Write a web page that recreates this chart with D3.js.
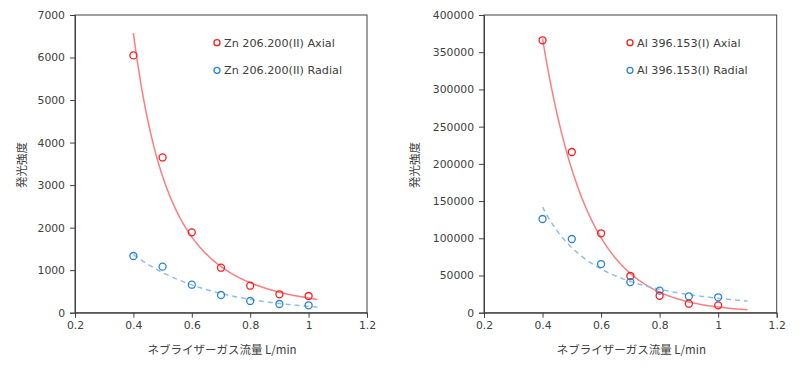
<!DOCTYPE html>
<html>
<head>
<meta charset="utf-8">
<script src="https://cdn.jsdelivr.net/npm/d3@7"></script>
<style>
  body { margin: 0; background: #fff; }
  svg { display: block; }
  .axis text { font-family: "DejaVu Sans", Verdana, sans-serif; font-size: 10.8px; fill: #404040; }
  .axis path, .axis line { stroke: #404040; }
  .lbl { font-family: "Noto Sans CJK JP", "DejaVu Sans", sans-serif; font-size: 11.5px; fill: #404040; }
  .legend text { font-family: "DejaVu Sans", Verdana, sans-serif; font-size: 11.2px; fill: #404040; }
</style>
</head>
<body>
<div id="chart"></div>
<script>
// Measured values
const flows = [0.4, 0.5, 0.6, 0.7, 0.8, 0.9, 1.0];
const znAxial = [6050, 3650, 1890, 1058, 635, 433, 393];
const znRadial = [1333, 1082, 658, 416, 275, 205, 174];
const alAxial = [366000, 215900, 106700, 49300, 22800, 12100, 9900];
const alRadial = [125900, 99000, 65400, 41200, 29600, 22000, 20700];

const xTicks = [0.2, 0.4, 0.6, 0.8, 1.0, 1.2];
const znYTicks = [0, 1000, 2000, 3000, 4000, 5000, 6000, 7000];
const alYTicks = [0, 50000, 100000, 150000, 200000, 250000, 300000, 350000, 400000];

const xLabel = "ネブライザーガス流量 L/min";
const yLabel = "発光強度";

// Excel-style trendlines (least squares on logs)
function fitTrend(xs, ys, type) {
  const tx = type === "power" ? xs.map(Math.log) : xs;
  const ly = ys.map(Math.log);
  const mx = d3.mean(tx), my = d3.mean(ly);
  const b = d3.sum(tx, (v, i) => (v - mx) * (ly[i] - my)) / d3.sum(tx, v => (v - mx) ** 2);
  const a = my - b * mx;
  return type === "power"
    ? x => Math.exp(a) * Math.pow(x, b)
    : x => Math.exp(a + b * x);
}

const COLORS = {
  axialMark: "#ff1a1a",
  axialLine: "#ff7c80",
  radialMark: "#2a84d2",
  radialLine: "#8fbfe6"
};

const panels = [
  {
    left: 75, right: 367, yMax: 7000, yTicks: znYTicks,
    legendX: 217,
    series: [
      { name: "Zn 206.200(II) Axial", values: znAxial, fit: "power", end: 1.03, kind: "axial" },
      { name: "Zn 206.200(II) Radial", values: znRadial, fit: "exp", end: 1.03, kind: "radial" }
    ]
  },
  {
    left: 484, right: 776.7, yMax: 400000, yTicks: alYTicks,
    legendX: 630,
    series: [
      { name: "Al 396.153(I) Axial", values: alAxial, fit: "exp", end: 1.1, kind: "axial" },
      { name: "Al 396.153(I) Radial", values: alRadial, fit: "power", end: 1.1, kind: "radial" }
    ]
  }
];

const width = 800, height = 371;
const plotTop = 15, plotBottom = 312.7;

const svg = d3.select("#chart").append("svg")
  .attr("width", width)
  .attr("height", height);

panels.forEach(p => {
  const x = d3.scaleLinear().domain([0.2, 1.2]).range([p.left, p.right]);
  const y = d3.scaleLinear().domain([0, p.yMax]).range([plotBottom, plotTop]);
  const g = svg.append("g");

  // Frame
  g.append("rect")
    .attr("x", p.left).attr("y", plotTop)
    .attr("width", p.right - p.left).attr("height", plotBottom - plotTop)
    .attr("fill", "none")
    .attr("stroke", "#404040")
    .attr("stroke-width", 1);

  g.append("g")
    .attr("class", "axis")
    .attr("transform", `translate(0,${plotBottom})`)
    .call(d3.axisBottom(x).tickValues(xTicks).tickSize(5).tickPadding(4).tickFormat(d3.format("~g")));

  g.append("g")
    .attr("class", "axis")
    .attr("transform", `translate(${p.left},0)`)
    .call(d3.axisLeft(y).tickValues(p.yTicks).tickSize(5).tickPadding(5).tickFormat(d3.format("d")));

  // Trendlines
  p.series.forEach(s => {
    const f = fitTrend(flows, s.values, s.fit);
    const pts = d3.range(0.4, s.end + 1e-9, 0.005).map(v => [v, f(v)]);
    g.append("path")
      .datum(pts)
      .attr("fill", "none")
      .attr("stroke", s.kind === "axial" ? COLORS.axialLine : COLORS.radialLine)
      .attr("stroke-width", 1.5)
      .attr("stroke-dasharray", s.kind === "axial" ? null : "5,4")
      .attr("d", d3.line().x(d => x(d[0])).y(d => y(d[1])));
  });

  // Markers
  p.series.forEach(s => {
    g.append("g").selectAll("circle")
      .data(s.values)
      .join("circle")
      .attr("cx", (d, i) => x(flows[i]))
      .attr("cy", d => y(d))
      .attr("r", 3.5)
      .attr("fill", "none")
      .attr("stroke", s.kind === "axial" ? COLORS.axialMark : COLORS.radialMark)
      .attr("stroke-width", 1.3);
  });

  // Legend
  const lg = g.append("g").attr("class", "legend");
  p.series.forEach((s, i) => {
    const ly = 42.7 + i * 27.6;
    lg.append("circle")
      .attr("cx", p.legendX).attr("cy", ly).attr("r", 3)
      .attr("fill", "none")
      .attr("stroke", s.kind === "axial" ? COLORS.axialMark : COLORS.radialMark)
      .attr("stroke-width", 1.3);
    lg.append("text")
      .attr("x", p.legendX + 7).attr("y", ly)
      .attr("dy", "0.36em")
      .text(s.name);
  });

  // Axis titles
  g.append("text")
    .attr("class", "lbl")
    .attr("x", (p.left + p.right) / 2 + 1)
    .attr("y", 350)
    .attr("dy", "0.35em")
    .attr("text-anchor", "middle")
    .text(xLabel);

  g.append("text")
    .attr("class", "lbl")
    .attr("transform", `translate(${p.left - (p.yMax > 10000 ? 69 : 53)},${165}) rotate(-90)`)
    .attr("text-anchor", "middle")
    .attr("dy", "0.35em")
    .text(yLabel);
});
</script>
</body>
</html>
